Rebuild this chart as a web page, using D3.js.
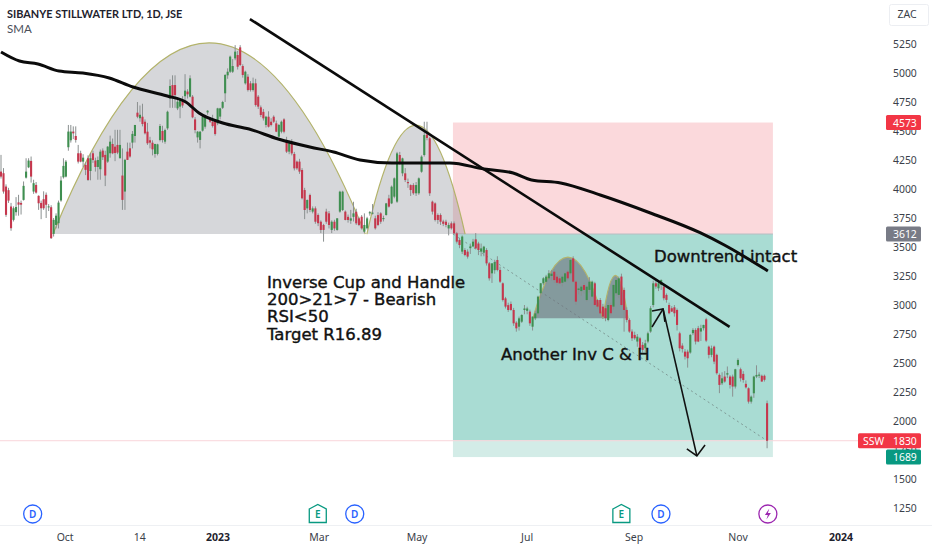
<!DOCTYPE html>
<html lang="en">
<head>
<meta charset="utf-8">
<title>SIBANYE STILLWATER LTD, 1D, JSE</title>
<script src="https://d3js.org/d3.v7.min.js"></script>
<style>
  html, body { margin: 0; padding: 0; background: #fff; }
  svg { display: block; }
  text { font-family: "Noto Sans", sans-serif; }
  .note { font-family: "DejaVu Sans", sans-serif; font-size: 16.5px; fill: #111; stroke: #111; stroke-width: .4px; }
</style>
</head>
<body>
<svg width="932" height="550"></svg>
<script>
// daily bars: open, high, low, close
const candles = [
  [4150,4294,4090,4107],[4136,4180,3960,3978],[4021,4040,3760,3777],[3990,4010,3880,3900],[3849,3880,3640,3662],
  [3734,3850,3720,3834],[3800,3930,3770,3845],[3885,3950,3770,3865],[3880,3900,3780,3865],[3906,4065,3900,4027],
  [4098,4265,4090,4150],[4187,4265,4180,4245],[4242,4280,4055,4107],[3978,4080,3958,4050],[4035,4060,3960,3969],
  [3941,3945,3820,3877],[3880,3900,3740,3834],[3912,3980,3820,3834],[3950,3970,3750,3864],[3845,3870,3810,3850],
  [3843,3860,3570,3576],[3613,3750,3590,3734],[3690,3790,3660,3770],[3705,3900,3660,3883],[3901,4110,3890,4073],
  [4101,4265,4090,4199],[4107,4250,4100,4236],[4360,4552,4330,4495],[4420,4552,4400,4495],[4495,4540,4430,4480],
  [4457,4540,4400,4423],[4308,4380,4220,4236],[4308,4330,4230,4236],[4236,4300,4190,4270],[4207,4230,4120,4165],
  [4265,4290,4070,4078],[4155,4310,4075,4265],[4308,4330,4225,4250],[4245,4270,4150,4190],[4190,4280,4080,4250],
  [4170,4340,4080,4322],[4331,4350,4250,4274],[4294,4330,4025,4116],[4236,4370,4225,4365],[4308,4460,4270,4408],
  [4388,4435,4300,4308],[4365,4510,4240,4310],[4380,4510,4300,4314],[4265,4510,4265,4380],[4116,4350,3820,3906],
  [3978,4260,3820,4251],[4322,4400,4250,4251],[4351,4400,4270,4280],[4400,4500,4350,4475],[4457,4552,4400,4552],
  [4658,4750,4610,4623],[4610,4720,4580,4640],[4623,4735,4540,4560],[4580,4600,4470,4480],[4494,4570,4380,4394],
  [4420,4450,4350,4400],[4399,4420,4290,4342],[4302,4390,4270,4388],[4302,4390,4290,4385],[4422,4560,4410,4543],
  [4500,4545,4400,4422],[4408,4520,4390,4508],[4523,4675,4510,4666],[4781,4945,4700,4888],[4896,4980,4700,4803],
  [4896,4980,4700,4810],[4695,4780,4680,4753],[4710,4770,4610,4767],[4760,4800,4700,4720],[4800,4990,4760,4848],
  [4840,4860,4780,4816],[4796,4980,4790,4954],[4796,4810,4610,4618],[4600,4620,4480,4508],[4445,4500,4400,4494],
  [4423,4500,4350,4494],[4503,4640,4495,4623],[4537,4640,4520,4623],[4660,4680,4640,4675],[4600,4620,4570,4580],
  [4580,4640,4530,4543],[4589,4600,4460,4474],[4566,4700,4550,4695],[4624,4700,4600,4695],[4700,4760,4690,4750],
  [4825,4990,4750,4983],[4980,5040,4950,5011],[5011,5150,5000,5141],[5011,5120,5000,5060],[5126,5240,5110,5184],
  [5155,5190,5030,5054],[5221,5240,5060,5069],[5060,5075,4960,4983],[4911,5020,4900,5011],[4968,4990,4840,4853],
  [4911,4930,4840,4853],[4853,4960,4840,4911],[4911,4950,4710,4724],[4796,4810,4690,4710],[4704,4720,4620,4638],
  [4665,4690,4590,4609],[4552,4630,4530,4623],[4623,4670,4530,4537],[4580,4610,4540,4552],[4623,4635,4570,4580],
  [4566,4590,4490,4494],[4451,4560,4450,4552],[4494,4590,4480,4580],[4600,4610,4480,4494],[4416,4450,4310,4322],
  [4322,4420,4300,4394],[4399,4430,4290,4307],[4302,4320,4160,4178],[4236,4245,4165,4178],[4236,4260,4130,4150],
  [4164,4180,3910,3920],[3991,4010,3740,3819],[3833,3910,3790,3905],
  [3948,3960,3800,3819],[3805,3850,3790,3833],[3833,3850,3700,3718],[3776,3790,3680,3705],[3718,3730,3620,3647],
  [3690,3700,3546,3647],[3805,3830,3700,3718],[3790,3810,3660,3690],[3647,3730,3620,3718],[3718,3735,3640,3660],
  [3647,3750,3640,3747],[3805,3985,3795,3977],[3819,3985,3810,3977],[3805,3815,3730,3733],[3760,3780,3710,3733],
  [3727,3820,3700,3747],[3760,3890,3720,3790],[3804,3830,3690,3704],[3747,3760,3680,3690],[3761,3775,3650,3661],
  [3632,3790,3620,3690],[3661,3760,3650,3747],[3790,3810,3770,3800],[3790,3870,3780,3796],[3747,3770,3650,3661],
  [3775,3800,3680,3690],[3790,3800,3700,3718],[3740,3770,3720,3750],[3776,3880,3770,3876],[3919,3950,3840,3848],
  [3876,4030,3870,4020],[3934,4100,3920,4092],[3891,4320,3880,4307],[4293,4320,4210,4221],[4135,4270,4110,4264],
  [4135,4180,4060,4077],[4060,4090,4010,4050],[4034,4040,3940,3991],[4034,4050,3950,3963],[3963,4060,3940,4034],
  [3963,4100,3950,4092],[4149,4290,4140,4279],[4293,4580,4280,4465],[4470,4580,4420,4440],[4437,4450,3940,3963],
  [3891,3900,3780,3805],[3876,3885,3720,3733],[3776,3790,3700,3733],[3776,3790,3690,3718],[3720,3735,3680,3700],
  [3718,3735,3670,3690],[3660,3710,3600,3690],[3704,3720,3650,3661],[3704,3720,3610,3618],[3618,3630,3530,3546],
  [3560,3580,3490,3517],[3460,3600,3440,3590],[3474,3490,3420,3431],[3460,3480,3400,3417],[3490,3530,3440,3505],
  [3505,3570,3500,3546],[3566,3620,3480,3488],[3530,3545,3430,3474],[3460,3530,3420,3488],[3451,3510,3420,3503],
  [3474,3490,3340,3359],[3359,3370,3210,3230],[3273,3360,3190,3359],[3300,3390,3270,3370],[3388,3420,3290,3302],
  [3302,3330,3190,3201],[3187,3195,3030,3043],[3057,3070,2970,2986],[2999,3020,2940,2957],[3009,3030,2950,2957],
  [2957,2975,2820,2842],[2848,2860,2770,2799],[2813,2900,2780,2885],[2856,2920,2845,2914],[2957,3000,2920,2970],
  [2950,2985,2920,2970],[2943,2960,2820,2842],[2813,2900,2780,2900],[2885,2950,2870,2928],[2928,3080,2900,3072],
  [3101,3190,3060,3187],[3187,3240,3170,3230],[3200,3260,3180,3245],[3230,3300,3215,3273],[3250,3300,3210,3270],
  [3287,3310,3190,3215],[3244,3265,3170,3192],[3230,3250,3180,3187],[3192,3260,3160,3244],[3201,3280,3190,3273],
  [3287,3300,3210,3230],[3273,3395,3260,3388],[3402,3420,3190,3201],[3201,3215,3000,3029],[3130,3150,3090,3142],
  [3120,3170,3080,3158],[3172,3190,3100,3130],[3043,3170,3030,3158],[3130,3240,3110,3201],[3072,3210,3060,3201],
  [3187,3200,2990,3000],[3043,3050,2970,2986],[3043,3060,2920,2928],
  [2986,3010,2880,2900],[2972,2990,2860,2886],[2871,3020,2860,3000],[3000,3020,2910,2929],[2986,3180,2960,3173],
  [3101,3240,3080,3216],[3087,3245,3060,3230],[3245,3270,2990,3000],[3130,3150,2770,2957],[2957,2980,2850,2871],
  [2871,2885,2760,2771],[2771,2790,2690,2713],[2742,2770,2700,2713],[2685,2750,2640,2727],[2713,2725,2610,2627],
  [2656,2680,2590,2613],[2627,2700,2590,2670],[2685,2770,2670,2756],[2771,2990,2760,2972],[3000,3210,2980,3187],
  [3187,3210,3140,3159],[3144,3210,3120,3187],[3173,3220,3130,3216],[3159,3180,3040,3058],[3087,3100,3020,3044],
  [3000,3020,2920,2929],[2972,2990,2940,2943],[2980,3000,2900,2929],[2957,2970,2780,2828],[2756,2770,2600,2627],
  [2650,2670,2590,2620],[2598,2620,2530,2555],[2598,2615,2460,2541],[2590,2750,2580,2742],[2757,2800,2740,2785],
  [2785,2800,2660,2685],[2800,2820,2680,2685],[2771,2830,2690,2800],[2800,2830,2780,2828],[2877,2890,2680,2693],
  [2641,2650,2540,2570],[2570,2650,2550,2627],[2641,2650,2490,2512],[2570,2580,2400,2412],[2397,2410,2240,2311],
  [2325,2420,2310,2368],[2383,2430,2330,2340],[2400,2470,2370,2412],[2383,2395,2280,2311],[2383,2400,2210,2297],
  [2297,2450,2280,2446],[2483,2540,2470,2526],[2446,2460,2340,2368],[2406,2430,2330,2354],[2320,2350,2280,2290],
  [2282,2290,2150,2167],[2167,2220,2150,2210],[2239,2390,2200,2383],[2383,2480,2370,2397],[2390,2420,2370,2400],
  [2390,2400,2340,2340],[2390,2400,2340,2355],[2153,2176,1765,1830]
];

// candle numbers of some recognisable bars, and the session each one falls on
const anchorCandles = [0,20,49,96,122,167,230,293];
const anchorSessions = [0,19,46,90.6,116,162.4,227,290.2];

// SMA, sampled along the line: session number and price
const smaBars = [0,7,14,22,31,41,50,63,70,75,84,94,105,117,126,136,148,170,183,194,201,212,227,246,265,274,290.5];
const smaPrices = [5181,5103,5078,5017,5000,4957,4879,4802,4750,4655,4569,4517,4431,4362,4319,4250,4224,4224,4172,4138,4078,4052,3948,3793,3621,3517,3293];

const priceTicks = [1250,1500,1750,2000,2250,2500,2750,3000,3250,3500,3750,4000,4250,4500,4750,5000,5250];
const timeLabels = ["Oct","14","2023","Mar","May","Jul","Sep","Nov","2024"];
const timeBars = [24.3,52.6,82.2,120.5,157.6,199.3,239.8,279.2,318.2];
const boldLabels = ["2023","2024"];

// position tool: entry, stop, target prices and its bar span
const entryPrice = 3612, stopPrice = 4573, targetPrice = 1689, lastPrice = 1830;
const boxBars = [171.2,292.4];

// drawings, as [session, price]
const trendLine = [[94.3,5465],[276,2811]];
const arrowOne = [[246.6,2810],[250.8,2966]];
const arrowOneHead = [[246.6,2948],[250.8,2966],[251.5,2854]];
const arrowTwo = [[250.8,2966],[263.6,1699]];
const arrowTwoHead = [[259.8,1759],[263.6,1699],[266.7,1793]];

// arcs: from session, to session, base price, peak price
const arcFrom = [19.7,138.6,201.5,228];
const arcTo = [138,175.8,228,237.5];
const arcBase = [3612,3612,2886,2886];
const arcPeak = [5260,4550,3412,3255];
const arcDark = [false,false,true,true];

const eventBars = [12,120,134,235,250,290.5];
const eventKinds = ["D","E","D","E","D","S"];

const noteLines = ["Inverse Cup and Handle","200>21>7 - Bearish","RSI<50","Target R16.89"];

const green = "#3f8f50", red = "#c5374d", wick = "#8b9090";
const svg = d3.select("svg");
const xs = d3.scaleLinear().domain([0, 291]).range([1, 769.2]);
const x = d3.scaleLinear().domain(anchorCandles).range(anchorSessions.map(xs));
const y = d3.scaleLinear().domain([5250, 1250]).range([44, 508]);

// position boxes
const boxX = xs(boxBars[0]), boxW = xs(boxBars[1]) - xs(boxBars[0]);
const boxes = [
  { a: stopPrice, b: entryPrice, fill: "#fbd9dc" },
  { a: entryPrice, b: lastPrice, fill: "#a9dcd3" },
  { a: lastPrice, b: targetPrice, fill: "#d3ece7" }
];
svg.selectAll(".box").data(boxes).enter().append("rect")
  .attr("class", "box")
  .attr("x", boxX).attr("width", boxW)
  .attr("y", d => y(d.a)).attr("height", d => y(d.b) - y(d.a))
  .attr("fill", d => d.fill);
svg.append("line").attr("x1", boxX).attr("x2", boxX + boxW)
  .attr("y1", y(entryPrice)).attr("y2", y(entryPrice)).attr("stroke", "#b8bcc2").attr("stroke-width", 1);

// last price line
svg.append("line").attr("x1", 0).attr("x2", 860)
  .attr("y1", y(lastPrice)).attr("y2", y(lastPrice)).attr("stroke", "#f9d5da").attr("stroke-width", 1);

// dashed line from entry to last close
svg.append("line").attr("x1", boxX).attr("y1", y(entryPrice))
  .attr("x2", x(candles.length - 1)).attr("y2", y(lastPrice))
  .attr("stroke", "#7f9a96").attr("stroke-width", 1).attr("stroke-dasharray", "2 3");

// cup arcs
const arcPath = i => {
  const x0 = xs(arcFrom[i]), x1 = xs(arcTo[i]), yb = y(arcBase[i]), yp = y(arcPeak[i]);
  return `M${x0},${yb}Q${(x0 + x1) / 2},${2 * yp - yb} ${x1},${yb}`;
};
svg.selectAll(".arc").data(arcFrom).enter().append("path")
  .attr("class", "arc")
  .attr("d", (d, i) => arcPath(i) + "Z")
  .attr("fill", (d, i) => arcDark[i] ? "rgba(110,113,125,.62)" : "rgba(120,123,134,.3)")
  .attr("stroke", "none");
svg.selectAll(".arcEdge").data(arcFrom).enter().append("path")
  .attr("class", "arcEdge")
  .attr("d", (d, i) => arcPath(i))
  .attr("fill", "none").attr("stroke", "#b3b36a").attr("stroke-width", 1.2);

// candles
const bar = svg.append("g").selectAll("g").data(candles).enter().append("g");
bar.append("line")
  .attr("x1", (d, i) => x(i)).attr("x2", (d, i) => x(i))
  .attr("y1", d => y(d[1])).attr("y2", d => y(d[2]))
  .attr("stroke", wick).attr("stroke-width", 1);
bar.append("rect")
  .attr("x", (d, i) => x(i) - 1.05).attr("width", 2.1)
  .attr("y", d => y(Math.max(d[0], d[3])))
  .attr("height", d => Math.max(1, Math.abs(y(d[0]) - y(d[3]))))
  .attr("fill", d => d[3] >= d[0] ? green : red);

// SMA
const smaLine = d3.line().x((d, i) => xs(smaBars[i])).y(d => y(d)).curve(d3.curveMonotoneX);
svg.append("path").datum(smaPrices).attr("d", smaLine)
  .attr("fill", "none").attr("stroke", "#0b0b0b").attr("stroke-width", 3);

// hand drawn lines
const drawn = d3.line().x(d => xs(d[0])).y(d => y(d[1]));
svg.append("path").attr("d", drawn(trendLine)).attr("fill", "none").attr("stroke", "#0b0b0b").attr("stroke-width", 2.6);
[arrowOne, arrowOneHead, arrowTwo, arrowTwoHead].forEach(p => {
  svg.append("path").attr("d", drawn(p)).attr("fill", "none").attr("stroke", "#111").attr("stroke-width", 1.6);
});

// notes
svg.selectAll(".line1").data(noteLines).enter().append("text")
  .attr("class", "note line1")
  .attr("x", 267).attr("y", (d, i) => 288 + i * 17.2).text(d => d);
svg.append("text").attr("class", "note").attr("x", 654).attr("y", 262).text("Downtrend intact");
svg.append("text").attr("class", "note").attr("x", 501).attr("y", 360).text("Another Inv C & H");

// title
svg.append("text").attr("x", 7).attr("y", 18).attr("font-size", 10.9).attr("font-weight", 700)
  .style("font-family", "Lato, sans-serif").attr("fill", "#1e222d")
  .text("SIBANYE STILLWATER LTD, 1D, JSE");
svg.append("text").attr("x", 7).attr("y", 33).attr("font-size", 11.5)
  .style("font-family", "Lato, sans-serif").attr("fill", "#4a4e59").text("SMA");

// price axis
const axisY = d3.axisRight(y).tickValues(priceTicks).tickSize(0).tickPadding(0).tickFormat(d3.format("d"));
const gy = svg.append("g").attr("transform", "translate(893,0)").call(axisY);
gy.select(".domain").remove();
gy.selectAll("text").attr("font-size", 10.4).attr("font-family", "Noto Sans, sans-serif").attr("fill", "#3b3f4a");

// price tags
const tags = [
  { p: stopPrice, x: 886, w: 35, fill: "#f23645", label: String(stopPrice) },
  { p: entryPrice, x: 886, w: 35, fill: "#787b86", label: String(entryPrice) },
  { p: targetPrice, x: 886, w: 35, fill: "#089981", label: String(targetPrice) },
  { p: lastPrice, x: 858, w: 63, fill: "#f23645", label: String(lastPrice), name: "SSW" }
];
const tag = svg.selectAll(".tag").data(tags).enter().append("g").attr("class", "tag");
tag.append("rect").attr("x", d => d.x).attr("width", d => d.w)
  .attr("y", d => y(d.p) - 7.5).attr("height", 15).attr("rx", 1.5).attr("fill", d => d.fill);
tag.append("text").attr("x", 893).attr("y", d => y(d.p) + 4).attr("font-size", 10.4).attr("fill", "#fff").text(d => d.label);
tag.filter(d => d.name).append("text").attr("x", 863).attr("y", d => y(d.p) + 4)
  .attr("font-size", 10.4).attr("fill", "#fff").text(d => d.name);

// currency box
svg.append("rect").attr("x", 889.5).attr("y", 4.5).attr("width", 39).attr("height", 21).attr("rx", 2)
  .attr("fill", "#fff").attr("stroke", "#eceef2");
svg.append("text").attr("x", 907).attr("y", 18).attr("text-anchor", "middle").attr("font-size", 10.5).attr("fill", "#3b3f4a").text("ZAC");

// time axis
svg.append("line").attr("x1", 0).attr("x2", 932).attr("y1", 525.5).attr("y2", 525.5).attr("stroke", "#eef0f3");
svg.selectAll(".time").data(timeLabels).enter().append("text")
  .attr("class", "time")
  .attr("x", (d, i) => xs(timeBars[i])).attr("y", 541)
  .attr("text-anchor", "middle").attr("font-size", 10.5)
  .attr("font-weight", d => boldLabels.includes(d) ? 700 : 400)
  .attr("fill", d => boldLabels.includes(d) ? "#1e222d" : "#3b3f4a")
  .text(d => d);

// event markers
const ev = svg.selectAll(".ev").data(eventBars).enter().append("g").attr("class", "ev")
  .attr("transform", d => `translate(${xs(d)},514)`);
ev.each(function (d, i) {
  const g = d3.select(this), k = eventKinds[i];
  if (k === "E") {
    g.append("path").attr("d", "M-8.5,-5L0,-9.5L8.5,-5V8.5H-8.5Z").attr("fill", "#fff").attr("stroke", "#089981").attr("stroke-width", 1.3);
    g.append("text").attr("text-anchor", "middle").attr("y", 3.8).attr("font-size", 10).attr("font-weight", 600).attr("fill", "#089981").text("E");
  } else if (k === "D") {
    g.append("circle").attr("r", 9).attr("fill", "#fff").attr("stroke", "#2962ff").attr("stroke-width", 1.3);
    g.append("text").attr("text-anchor", "middle").attr("y", 3.8).attr("font-size", 10).attr("font-weight", 600).attr("fill", "#2962ff").text("D");
  } else {
    g.append("circle").attr("r", 9).attr("fill", "#fff").attr("stroke", "#9c27b0").attr("stroke-width", 1.3);
    g.append("path").attr("d", "M1.5,-5.5L-3,1H0L-1.5,5.5L3,-1H0Z").attr("fill", "#9c27b0");
  }
});
</script>
</body>
</html>
